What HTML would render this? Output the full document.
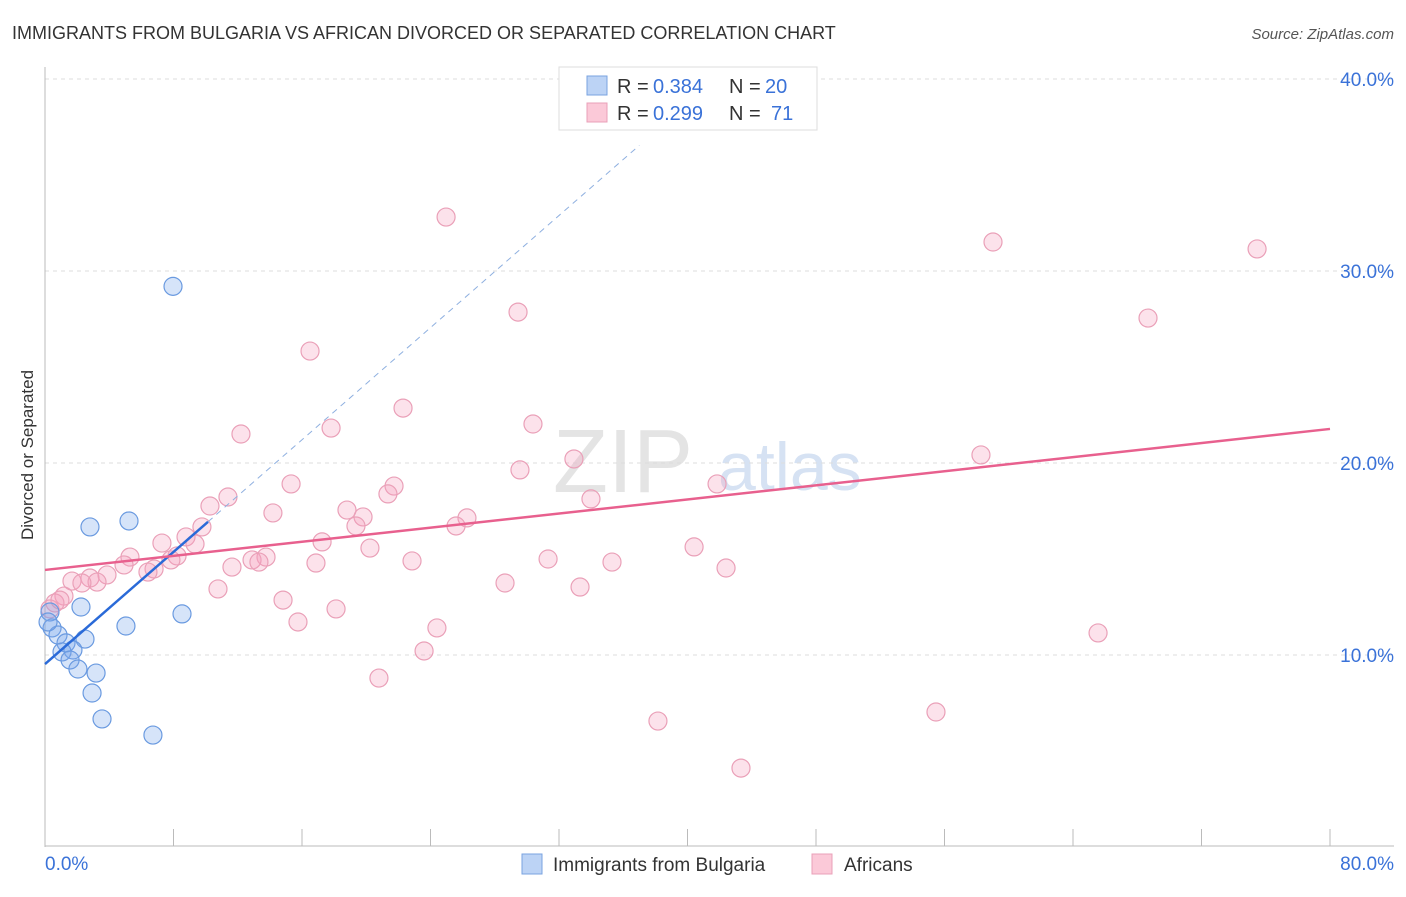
<!DOCTYPE html>
<html><head><meta charset="utf-8"><style>
body{margin:0;background:#fff;font-family:"Liberation Sans",sans-serif}
svg text{font-family:"Liberation Sans",sans-serif}
</style></head><body>
<svg width="1406" height="892">
<text x="12" y="39" font-size="18" fill="#333">IMMIGRANTS FROM BULGARIA VS AFRICAN DIVORCED OR SEPARATED CORRELATION CHART</text>
<text x="1394" y="39" font-size="15" fill="#555" font-style="italic" text-anchor="end">Source: ZipAtlas.com</text>
<text transform="translate(33,455) rotate(-90)" font-size="17" fill="#333" text-anchor="middle">Divorced or Separated</text>
<text x="553" y="492" font-size="90" fill="#e4e4e4" font-family="Liberation Serif">ZIP</text>
<text x="718" y="490" font-size="68" fill="#d6e2f3">atlas</text>
<g id="grid"></g><g id="axes"></g><g id="pts"></g><g id="lines"></g>
<g>
<rect x="559" y="67" width="258" height="63" fill="#fff" stroke="#ddd"/>
<rect x="587" y="76" width="20" height="19" fill="#bcd3f5" stroke="#7aa3e0"/>
<rect x="587" y="103" width="20" height="19" fill="#fbc9d8" stroke="#eaa0b8"/>
<text x="617" y="93" font-size="20" fill="#333">R =</text>
<text x="653" y="93" font-size="20" fill="#3a72d8">0.384</text>
<text x="729" y="93" font-size="20" fill="#333">N =</text>
<text x="765" y="93" font-size="20" fill="#3a72d8">20</text>
<text x="617" y="120" font-size="20" fill="#333">R =</text>
<text x="653" y="120" font-size="20" fill="#3a72d8">0.299</text>
<text x="729" y="120" font-size="20" fill="#333">N =</text>
<text x="771" y="120" font-size="20" fill="#3a72d8">71</text>
</g>
<g>
<rect x="522" y="854" width="20" height="20" fill="#bcd3f5" stroke="#7aa3e0"/>
<text x="553" y="871" font-size="19" fill="#333">Immigrants from Bulgaria</text>
<rect x="812" y="854" width="20" height="20" fill="#fbc9d8" stroke="#eaa0b8"/>
<text x="844" y="871" font-size="19" fill="#333">Africans</text>
</g>
</svg>
<script>
const yTicks=[10,20,30,40];
const yTickLabels=["10.0%","20.0%","30.0%","40.0%"];
const xTickLabels=["0.0%","80.0%"];
const bulgariaX=[7.97,2.80,5.23,2.24,8.53,5.04,0.31,0.44,0.81,2.49,1.31,1.74,1.06,1.56,2.05,3.18,2.93,3.55,6.72,0.19];
const bulgariaY=[29.2,16.67,16.98,12.5,12.14,11.51,12.24,11.41,11.04,10.83,10.63,10.26,10.16,9.74,9.27,9.06,8.02,6.67,5.83,11.72];
const africansX=[24.97,59.02,75.46,29.45,68.67,16.50,22.29,30.38,17.81,12.20,58.27,32.93,29.57,21.73,15.32,21.35,41.84,11.39,10.27,33.99,18.80,19.80,14.19,26.27,25.59,19.36,9.77,8.78,17.25,7.28,9.34,40.41,20.23,8.22,13.76,31.32,12.89,13.32,5.29,22.85,35.30,16.87,7.84,42.40,11.64,6.79,6.41,4.92,3.86,2.80,3.24,1.68,2.30,28.64,33.31,10.77,14.82,1.18,0.62,0.31,18.12,15.75,24.40,65.56,23.60,20.79,55.47,38.16,43.33,0.93];
const africansY=[32.81,31.51,31.15,27.86,27.55,25.83,22.86,22.03,21.82,21.51,20.42,20.21,19.64,18.80,18.91,18.39,18.91,18.23,17.76,18.13,17.55,17.19,17.40,17.14,16.72,16.72,16.67,16.15,15.89,15.83,15.78,15.63,15.57,15.16,15.10,15.00,14.95,14.84,15.10,14.90,14.84,14.79,14.95,14.53,14.58,14.48,14.32,14.69,14.17,14.01,13.80,13.85,13.75,13.75,13.54,13.44,12.86,13.07,12.71,12.40,12.40,11.72,11.41,11.15,10.21,8.80,7.03,6.56,4.11,12.86];
const bulgariaFit=[9.53,0.73];
const africansFit=[14.43,0.0918];
const NS="http://www.w3.org/2000/svg";
const sx=v=>45+v/80*1285, sy=v=>847-v*19.2;
function mk(t,a,p){const e=document.createElementNS(NS,t);for(const k in a)e.setAttribute(k,a[k]);document.getElementById(p).appendChild(e);return e;}
yTicks.forEach((t,i)=>{
 const g=mk('line',{x1:45,x2:1394,y1:sy(t),y2:sy(t),stroke:'#ddd','stroke-dasharray':'4,4'},'grid');
 
 
 const l=mk('text',{x:1394,y:sy(t)+7,'font-size':19,fill:'#3a72d8','text-anchor':'end'},'axes');l.textContent=yTickLabels[i];
 
 
});
const topGrid=mk('line',{x1:45,x2:1394,y1:79,y2:79,stroke:'#ddd','stroke-dasharray':'4,4'},'grid');
mk('line',{x1:45,x2:45,y1:67,y2:847,stroke:'#bbb'},'axes');
mk('line',{x1:45,x2:1394,y1:846,y2:846,stroke:'#bbb'},'axes');
for(let i=1;i<=10;i++){const x=sx(i*8);mk('line',{x1:x,x2:x,y1:829,y2:846,stroke:'#bbb'},'axes');}
[[45,'start',0],[1394,'end',1]].forEach(([x,a,i])=>{const t=mk('text',{x:x,y:870,'font-size':19,fill:'#3a72d8','text-anchor':a},'axes');t.textContent=xTickLabels[i];
 
 });
africansX.forEach((x,i)=>{const c=mk('circle',{cx:sx(x),cy:sy(africansY[i]),r:9,fill:'rgba(245,160,190,0.3)',stroke:'#eaa0b8','stroke-width':1.2},'pts');
 
 });
bulgariaX.forEach((x,i)=>{const c=mk('circle',{cx:sx(x),cy:sy(bulgariaY[i]),r:9,fill:'rgba(120,165,235,0.3)',stroke:'#6a9ae0','stroke-width':1.2},'pts');
 
 });
const bf=x=>bulgariaFit[0]+bulgariaFit[1]*x, af=x=>africansFit[0]+africansFit[1]*x;
const d=mk('line',{x1:sx(10.15),y1:sy(bf(10.15)),x2:sx(37),y2:sy(bf(37)),stroke:'#8fb0e0','stroke-dasharray':'6,5','stroke-width':1},'lines');


const b=mk('line',{x1:sx(0),y1:sy(bf(0)),x2:sx(10.15),y2:sy(bf(10.15)),stroke:'#2a6ad8','stroke-width':2.5},'lines');


const a=mk('line',{x1:sx(0),y1:sy(af(0)),x2:sx(80),y2:sy(af(80)),stroke:'#e8608e','stroke-width':2.5},'lines');


</script>
</body></html>
